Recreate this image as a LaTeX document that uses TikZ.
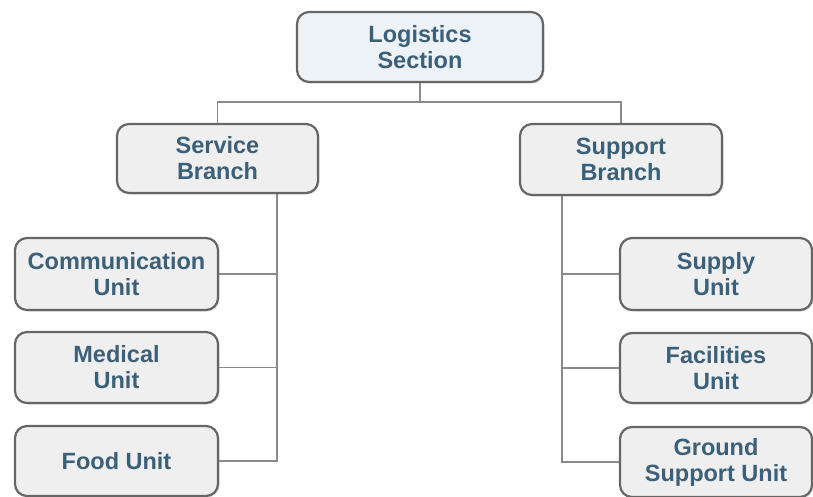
\documentclass[tikz,border=0pt]{standalone}
\usepackage{fontspec}
\setmainfont{Liberation Sans}
\usetikzlibrary{shadows}
\definecolor{txt}{HTML}{3B6079}
\definecolor{boxfill}{HTML}{EFEFEF}
\definecolor{topfill}{HTML}{EDF2F6}
\definecolor{boxline}{HTML}{666666}
\definecolor{conn}{HTML}{8A8A8A}
\tikzset{
  unit/.style={draw=boxline, line width=2.2pt, fill=boxfill, rounded corners=12pt,
    align=center, text=txt, font=\fontsize{23.5}{26}\selectfont\bfseries,
    inner sep=0pt, drop shadow={opacity=0.25, shadow xshift=1.5pt, shadow yshift=-1.5pt}},
  topunit/.style={unit, fill=topfill},
  link/.style={draw=conn, line width=1.5pt}
}
\begin{document}
\begin{tikzpicture}[x=1pt,y=-1pt]
\useasboundingbox (0,0) rectangle (813,497);
\node[topunit, minimum width=246pt, minimum height=70pt] (log) at (420,47) {Logistics\\Section};
\node[unit, minimum width=201pt, minimum height=69pt] (serv) at (217.5,158.5) {Service\\Branch};
\node[unit, minimum width=202pt, minimum height=71pt] (supp) at (621,159.5) {Support\\Branch};
\node[unit, minimum width=203pt, minimum height=72pt] (comm) at (116.5,274) {Communication\\Unit};
\node[unit, minimum width=203pt, minimum height=71pt] (med) at (116.5,367.5) {Medical\\Unit};
\node[unit, minimum width=203pt, minimum height=70pt] (food) at (116.5,461) {Food Unit};
\node[unit, minimum width=192pt, minimum height=72pt] (sply) at (716,274) {Supply\\Unit};
\node[unit, minimum width=192pt, minimum height=70pt] (fac) at (716,368) {Facilities\\Unit};
\node[unit, minimum width=192pt, minimum height=70pt] (grd) at (716,462) {Ground\\Support Unit};
\coordinate (j) at (420,102);
\coordinate (lv) at (277,0);
\coordinate (rv) at (562,0);
\draw[link] (log.south) -- (j);
\draw[link] (serv.north) |- (j) -| (supp.north);
\draw[link] (serv.south -| lv) |- (food.east);
\draw[link] (comm.east) -- (comm.east -| lv);
\draw[link] (med.east) -- (med.east -| lv);
\draw[link] (supp.south -| rv) |- (grd.west);
\draw[link] (sply.west) -- (sply.west -| rv);
\draw[link] (fac.west) -- (fac.west -| rv);
\end{tikzpicture}
\end{document}
